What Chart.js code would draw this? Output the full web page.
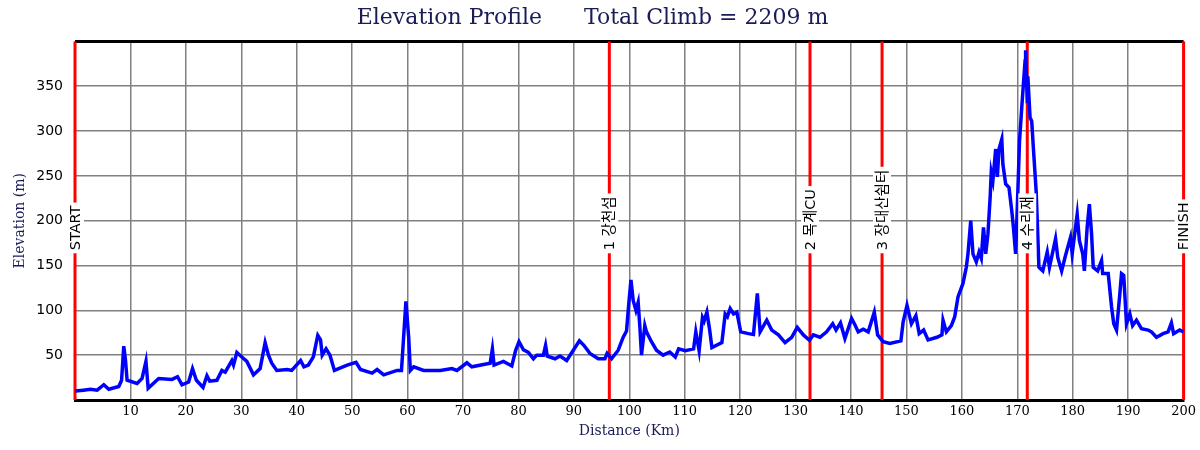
<!DOCTYPE html>
<html>
<head>
<meta charset="utf-8">
<title>Elevation Profile</title>
<script src="https://cdn.jsdelivr.net/npm/chart.js@4.4.1/dist/chart.umd.min.js"></script>
<style>
    html, body { margin: 0; padding: 0; background: #ffffff; }
    #wrap { width: 1200px; height: 450px; }
</style>
</head>
<body>
<div id="wrap"><canvas id="elevation-chart"></canvas></div>
<script>
// Route profile
const distanceKm = [
    0, 1.5, 2.8, 4, 5.2, 6.1, 7.9, 8.4, 8.8, 9.1, 9.4, 11.2, 12.1, 12.8, 13.2, 15.1, 17.5, 18.5, 19.3, 20.5,
    21.2, 21.9, 23.1, 23.8, 24.3, 25.6, 26.5, 27.1, 28.3, 28.6, 29.2, 30.1, 31, 32.2, 33.4, 34.3, 34.9, 35.5, 36.4, 38.3,
    39.1, 40.7, 41.3, 42.1, 43, 43.8, 44.3, 44.6, 45.3, 46, 46.8, 49.1, 50.7, 51.5, 53.6, 54.5, 55.7, 58.1, 58.9, 59.7,
    60.2, 60.5, 61.1, 62.9, 64.4, 65.9, 68, 68.9, 70.7, 71.6, 73.7, 74.9, 75.3, 75.6, 77.3, 78.8, 79.5, 80.1, 80.9, 81.8,
    82.7, 83.3, 84.5, 84.9, 85.2, 86.6, 87.5, 88.7, 89.9, 91, 91.8, 92.9, 94.4, 95.6, 96, 96.8, 98, 98.9, 99.5, 99.9,
    100.3, 100.7, 101.2, 101.6, 101.9, 102.2, 102.8, 103.1, 104, 104.9, 106.1, 107.3, 108.3, 108.9, 110.1, 111.6, 112, 112.6, 113.2, 113.5,
    114, 114.5, 114.9, 116.7, 117.3, 117.7, 118.2, 118.8, 119.4, 120.1, 121.5, 122.4, 123.1, 123.6, 124.8, 125.7, 126.9, 128.1, 129.3, 130.3,
    131.4, 132.5, 133.2, 134.4, 135.6, 136.7, 137.3, 138.1, 138.9, 140.1, 140.7, 141.3, 142.2, 143.1, 144.2, 144.8, 145.8, 147, 149, 149.4,
    150.1, 150.9, 151.7, 152.3, 153.1, 153.9, 155.5, 156.4, 156.6, 157.2, 158.1, 158.7, 159.3, 160.2, 160.8, 161.1, 161.6, 162, 162.6, 163.1,
    163.5, 163.9, 164.3, 164.7, 165.1, 165.3, 165.6, 165.8, 166.1, 166.4, 166.7, 167.2, 167.4, 167.9, 168.5, 169, 169.3, 169.7, 170.1, 170.4,
    170.8, 171.1, 171.4, 171.5, 171.8, 171.9, 172.3, 172.6, 172.9, 173.4, 173.6, 173.9, 174.6, 175.4, 175.8, 176.9, 177.3, 178, 178.6, 179.6,
    179.9, 180.8, 181.2, 181.8, 182.1, 182.6, 183, 183.4, 183.7, 184.5, 185.2, 185.4, 186.4, 187, 187.4, 187.9, 188.5, 188.8, 189.2, 189.7,
    190.3, 190.8, 191.5, 192.4, 193.6, 194.2, 195.1, 196.3, 197.2, 197.8, 198.2, 199.3, 200
];
const elevationM = [
    10, 11, 12, 11, 17, 12, 15, 22, 60, 45, 22, 18.5, 24, 43, 13, 24, 23, 26, 17, 20,
    35, 22, 14, 27, 21, 22, 33, 31, 44, 39, 53, 48, 43, 28, 35, 64, 50, 41, 33, 34,
    33, 44, 37, 39, 48, 72, 67, 50, 57, 50, 33, 39, 42, 34, 30, 34, 28, 33, 33, 110,
    70, 33, 37, 33, 33, 33, 35, 33, 41.5, 37, 39.5, 41, 57, 39, 43, 38, 55.5, 65, 56, 53,
    46, 50, 50, 61, 49, 46, 49, 44, 55.5, 66, 61, 52, 46, 46, 52, 46, 55.5, 70, 77, 107,
    134, 111, 100, 109, 82, 50, 83, 76, 65, 55.5, 50, 53.5, 48, 57, 55, 57, 76, 55, 92, 88,
    98, 78, 58.5, 64, 96, 93, 102, 96, 98, 76, 74, 73, 119, 76, 89, 78, 72.6, 64, 70, 81,
    72.6, 66.7, 72.6, 70, 76, 85, 78, 86, 68.5, 91, 84, 76, 79, 76, 98, 72.6, 65, 63, 66, 87,
    105.5, 85, 94, 74, 78, 67, 70, 72.6, 89, 76, 83, 92.6, 115, 130, 148, 163, 200, 163, 154, 165,
    158, 192.6, 163, 185, 226, 254, 245, 259, 280, 249, 280, 291, 263, 241, 237, 211, 192.6, 163, 233, 289,
    326, 352, 378, 390, 333, 361, 315, 311, 281, 233, 200, 148, 144, 165, 148, 180, 159, 144, 159, 181.5,
    163, 207, 178, 163, 144, 192.6, 218.5, 185, 148, 144, 155.5, 141, 141, 104, 85, 78, 118.5, 141, 139, 85,
    96, 83, 89, 79.6, 78, 76, 70, 74, 76, 86, 74, 78, 76
];

// Checkpoints along the route
const markerKm = [0, 96.4, 132.6, 145.6, 171.8, 200];
const markerLabels = ['START', '1 강천섬', '2 목계CU', '3 장대산쉼터', '4 수리재', 'FINISH'];

const totalClimb = 2209;
const navy = '#1b1b58';

// Red checkpoint lines behind the profile, label boxes on top of it
const checkpointPlugin = {
    id: 'checkpoints',
    beforeDatasetsDraw(chart) {
        const { ctx, chartArea, scales } = chart;
        ctx.save();
        // top frame line
        ctx.strokeStyle = '#000000';
        ctx.lineWidth = 3;
        ctx.beginPath();
        ctx.moveTo(chartArea.left, chartArea.top);
        ctx.lineTo(chartArea.right, chartArea.top);
        ctx.stroke();

        ctx.strokeStyle = '#ff0000';
        ctx.lineWidth = 3;
        markerKm.forEach(km => {
            const x = scales.x.getPixelForValue(km);
            ctx.beginPath();
            ctx.moveTo(x, chartArea.top);
            ctx.lineTo(x, chartArea.bottom);
            ctx.stroke();
        });
        ctx.restore();
    },
    afterDatasetsDraw(chart) {
        const { ctx, scales } = chart;
        const baseY = scales.y.getPixelForValue(167);
        ctx.save();
        ctx.font = '14.5px "DejaVu Sans", "Noto Sans CJK KR", sans-serif';
        ctx.textBaseline = 'middle';
        ctx.textAlign = 'left';
        markerLabels.forEach((label, i) => {
            const x = scales.x.getPixelForValue(markerKm[i]);
            const w = ctx.measureText(label).width;
            ctx.save();
            ctx.translate(x, baseY);
            ctx.rotate(-Math.PI / 2);
            ctx.fillStyle = '#ffffff';
            ctx.fillRect(-3, -9, w + 6, 18);
            ctx.fillStyle = '#000000';
            ctx.fillText(label, 0, 1);
            ctx.restore();
        });
        ctx.restore();
    }
};

function createElevationChart() {
    const canvas = document.getElementById('elevation-chart');
    const points = distanceKm.map((km, i) => ({ x: km, y: elevationM[i] }));

    return new Chart(canvas, {
        type: 'line',
        data: {
            datasets: [{
                label: 'Elevation',
                data: points,
                borderColor: '#0000ff',
                borderWidth: 3.5,
                pointRadius: 0,
                tension: 0,
                fill: false
            }]
        },
        options: {
            responsive: true,
            maintainAspectRatio: false,
            animation: false,
            layout: { padding: { top: 0, right: 15, bottom: 0, left: 0 } },
            plugins: {
                legend: { display: false },
                tooltip: { enabled: false },
                title: {
                    display: true,
                    text: 'Elevation Profile      Total Climb = ' + totalClimb + ' m',
                    color: navy,
                    font: { family: '"DejaVu Serif", serif', size: 22, weight: 'normal' },
                    padding: { top: 5, bottom: 10 }
                }
            },
            scales: {
                x: {
                    type: 'linear',
                    min: 0,
                    max: 200,
                    ticks: {
                        stepSize: 10,
                        padding: 4,
                        color: '#000000',
                        font: { family: '"DejaVu Serif", serif', size: 13 },
                        callback: value => value === 0 ? '' : value
                    },
                    grid: { color: '#808080', lineWidth: 1.5, drawTicks: false },
                    border: { display: true, color: '#000000', width: 3 },
                    title: {
                        display: true,
                        text: 'Distance (Km)',
                        color: navy,
                        font: { family: '"DejaVu Serif", serif', size: 14 },
                        padding: { top: 0, bottom: 10 }
                    },
                    afterFit: scale => { scale.height = 50; }
                },
                y: {
                    min: 0,
                    max: 400,
                    ticks: {
                        stepSize: 50,
                        padding: 12,
                        color: '#000000',
                        font: { family: '"DejaVu Sans", sans-serif', size: 14 },
                        callback: value => (value === 0 || value === 400) ? '' : value
                    },
                    grid: { color: '#808080', lineWidth: 1.5, drawTicks: false },
                    border: { display: false },
                    title: {
                        display: true,
                        text: 'Elevation (m)',
                        color: navy,
                        font: { family: '"DejaVu Serif", serif', size: 14 },
                        padding: { top: 12, bottom: 0 }
                    },
                    afterFit: scale => { scale.width = 75; }
                }
            }
        },
        plugins: [checkpointPlugin]
    });
}

document.addEventListener('DOMContentLoaded', () => {
    createElevationChart();
});
</script>
</body>
</html>
